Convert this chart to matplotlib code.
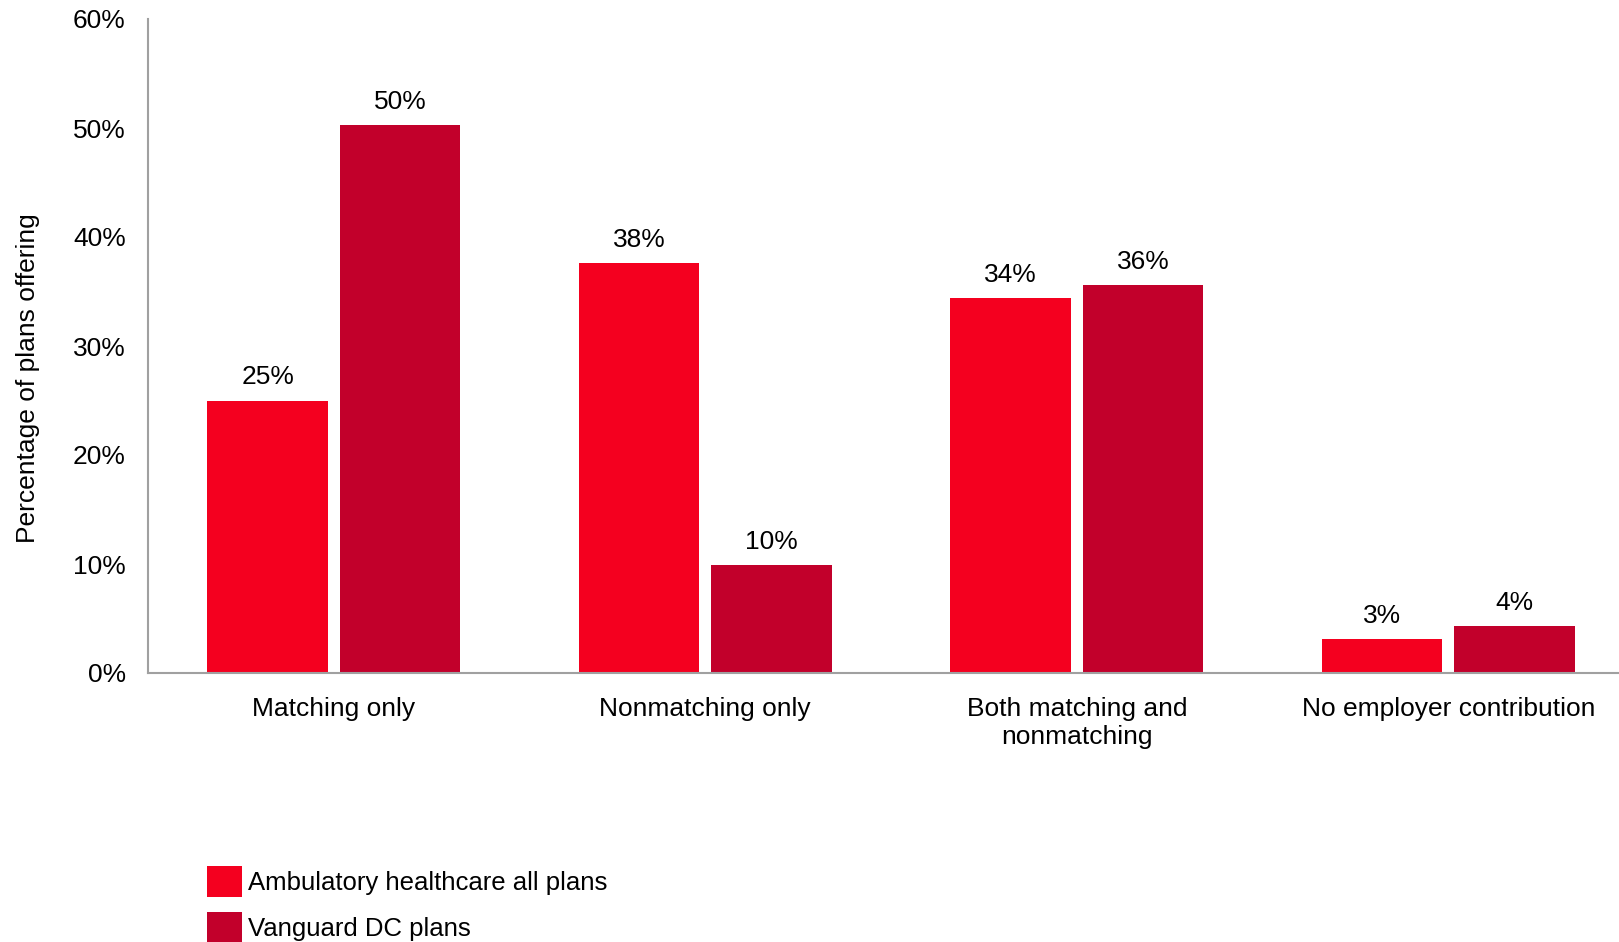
import matplotlib
matplotlib.use("Agg")
import matplotlib.pyplot as plt
import numpy as np

plt.rcParams['font.family'] = ['Liberation Sans', 'DejaVu Sans']

categories = ["Matching only", "Nonmatching only", "Both matching and\nnonmatching", "No employer contribution"]
series_names = ["Ambulatory healthcare all plans", "Vanguard DC plans"]
ambulatory = [25.0, 37.6, 34.4, 3.1]
vanguard = [50.3, 9.9, 35.6, 4.3]
colors = ["#F4001F", "#C2002B"]

W, H = 1619, 942
fig = plt.figure(figsize=(W / 100, H / 100), dpi=100)
# axes run off the right edge like the original
left, bottom, top = 148, 673, 19
width = 4 * 371.5
ax = fig.add_axes([left / W, 1 - bottom / H, width / W, (bottom - top) / H])

x = np.arange(len(categories))
bw = 0.324
off = 0.178
b1 = ax.bar(x - off, ambulatory, bw, color=colors[0], label=series_names[0])
b2 = ax.bar(x + off, vanguard, bw, color=colors[1], label=series_names[1])

for bars, vals in [(b1, ambulatory), (b2, vanguard)]:
    for r, v in zip(bars, vals):
        ax.annotate(f"{round(v):.0f}%", (r.get_x() + r.get_width() / 2, v),
                    xytext=(0, 8), textcoords="offset points",
                    ha="center", va="bottom", fontsize=19)

ax.set_xlim(-0.5, 3.5)
ax.set_ylim(0, 60)
ax.set_yticks(range(0, 61, 10))
ax.set_yticklabels([f"{t}%" for t in range(0, 61, 10)], fontsize=19)
ax.set_xticks(x)
ax.set_xticklabels(categories, fontsize=19, linespacing=1.25)
ax.tick_params(length=0)
ax.tick_params(axis="x", pad=17)
ax.tick_params(axis="y", pad=16)
ax.set_ylabel("Percentage of plans offering", fontsize=19)
ax.yaxis.set_label_coords(-0.0725, 0.451)

for s in ["top", "right"]:
    ax.spines[s].set_visible(False)
for s in ["left", "bottom"]:
    ax.spines[s].set_color("#A0A0A0")
    ax.spines[s].set_linewidth(1.5)

fig.legend(handles=[b1, b2], loc="upper left",
           bbox_to_anchor=(207 / W, 1 - 866 / H), frameon=False,
           fontsize=18.5, handlelength=1.38, handleheight=1.45,
           handletextpad=0.2, labelspacing=0.62, borderpad=0, borderaxespad=0)

fig.savefig("out.png", dpi=100)
